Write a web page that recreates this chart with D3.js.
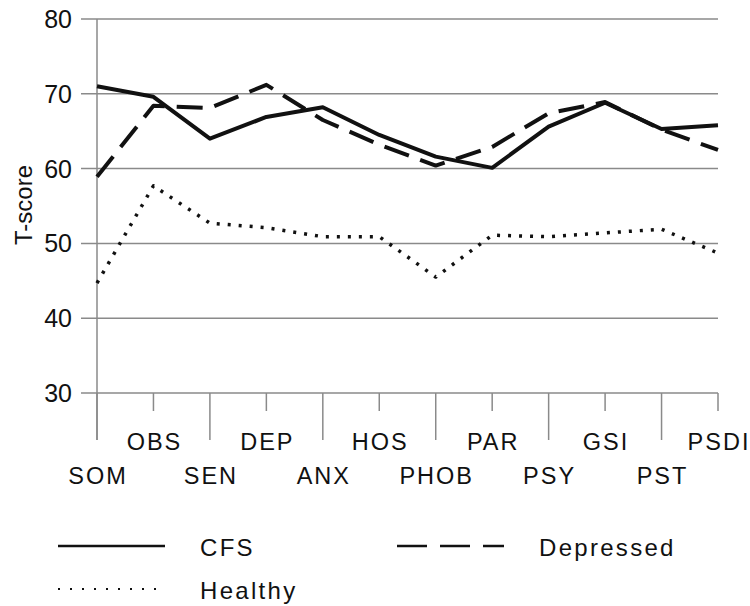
<!DOCTYPE html>
<html lang="en">
<head>
    <meta charset="UTF-8">
    <title>T-scores</title>
    <style>
        body { margin: 0; background: #fff; }
        text { font-family: 'Liberation Sans', Arial, sans-serif; fill: #111; }
    </style>
</head>
<body>

<script src="https://cdn.jsdelivr.net/npm/d3@7"></script>
<script>

const categories = ['SOM', 'OBS', 'SEN', 'DEP', 'ANX', 'HOS', 'PHOB', 'PAR', 'PSY', 'GSI', 'PST', 'PSDI'];
const cfs       = [71.0, 69.6, 64.0, 66.9, 68.2, 64.5, 61.6, 60.1, 65.6, 68.8, 65.3, 65.8];
const depressed = [58.9, 68.4, 68.1, 71.2, 66.5, 63.2, 60.4, 62.9, 67.4, 68.9, 65.2, 62.5];
const healthy   = [44.7, 57.7, 52.7, 52.1, 50.9, 50.9, 45.5, 51.1, 50.9, 51.4, 51.9, 48.7];
const yTicks = [30, 40, 50, 60, 70, 80];

const width = 750, height = 606;
const plotLeft = 97, plotRight = 718, plotTop = 19, plotBottom = 393;

let svg = d3.select('body')
    .append('svg')
    .attr('width', width)
    .attr('height', height);

let x = d3.scalePoint().domain(categories).range([plotLeft, plotRight]);
let y = d3.scaleLinear().domain([30, 80]).range([plotBottom, plotTop]);

// gridlines
svg.selectAll('.grid')
    .data(yTicks)
    .enter()
    .append('line')
    .attr('class', 'grid')
    .attr('x1', 81)
    .attr('x2', plotRight)
    .attr('y1', d => y(d))
    .attr('y2', d => y(d))
    .style('stroke', '#8a8a8a')
    .style('stroke-width', 1.5);

svg.selectAll('.ylab')
    .data(yTicks)
    .enter()
    .append('text')
    .attr('class', 'ylab')
    .attr('x', 72)
    .attr('y', d => y(d) + 9)
    .attr('text-anchor', 'end')
    .style('font-size', '25px')
    .text(d => d);

// y axis line, runs down to the first long tick
svg.append('line')
    .attr('x1', plotLeft).attr('x2', plotLeft)
    .attr('y1', plotTop).attr('y2', 440)
    .style('stroke', '#8a8a8a')
    .style('stroke-width', 1.5);

svg.append('text')
    .attr('transform', 'translate(32,205) rotate(-90)')
    .attr('text-anchor', 'middle')
    .style('font-size', '24px')
    .text('T-score');

// category ticks: long between the upper labels, short above them
svg.selectAll('.xtick')
    .data(categories)
    .enter()
    .append('line')
    .attr('class', 'xtick')
    .attr('x1', d => x(d))
    .attr('x2', d => x(d))
    .attr('y1', plotBottom)
    .attr('y2', (d, i) => i % 2 === 0 ? 440 : 411)
    .style('stroke', '#8a8a8a')
    .style('stroke-width', 1.5);

svg.selectAll('.xlab')
    .data(categories)
    .enter()
    .append('text')
    .attr('class', 'xlab')
    .attr('x', d => x(d) + 1)
    .attr('y', (d, i) => i % 2 === 0 ? 484 : 450)
    .attr('text-anchor', 'middle')
    .style('font-size', '23.5px')
    .style('letter-spacing', '2px')
    .text(d => d);

// series
let line = d3.line()
    .x((d, i) => x(categories[i]))
    .y(d => y(d));

const series = [
    {name: 'CFS', values: cfs, dash: null, w: 4, lw: 2.5, ldash: null},
    {name: 'Depressed', values: depressed, dash: '26,12', w: 4, lw: 2.5, ldash: '30,13'},
    {name: 'Healthy', values: healthy, dash: '3,8', w: 3.5, lw: 2, ldash: '2,10'}
];

svg.selectAll('.series')
    .data(series)
    .enter()
    .append('path')
    .attr('class', 'series')
    .attr('d', d => line(d.values))
    .style('fill', 'none')
    .style('stroke', '#111')
    .style('stroke-width', d => d.w)
    .style('stroke-linejoin', 'round')
    .style('stroke-dasharray', d => d.dash);

// legend
const legendPos = [[58, 546], [397, 546], [58, 589]];

let legend = svg.selectAll('.legend')
    .data(series)
    .enter()
    .append('g')
    .attr('class', 'legend')
    .attr('transform', (d, i) => 'translate(' + legendPos[i][0] + ',' + legendPos[i][1] + ')');

legend.append('line')
    .attr('x1', 0).attr('x2', 107)
    .attr('y1', 0).attr('y2', 0)
    .style('stroke', '#111')
    .style('stroke-width', d => d.lw)
    .style('stroke-dasharray', d => d.ldash);

legend.append('text')
    .attr('x', 142)
    .attr('y', 10)
    .style('font-size', '24px')
    .style('letter-spacing', '2.3px')
    .text(d => d.name);

</script>

</body>
</html>
